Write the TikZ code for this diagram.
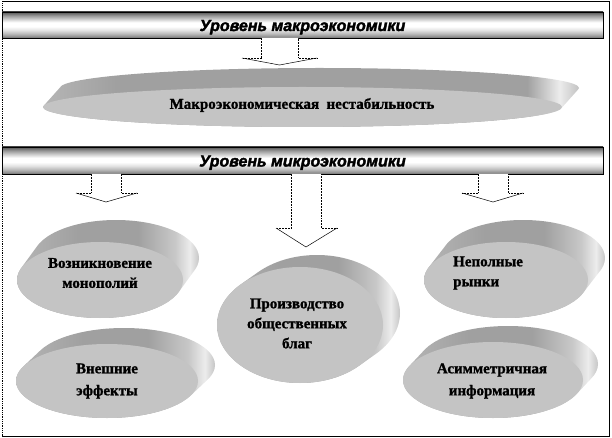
\documentclass[tikz,border=0pt]{standalone}
\usepackage{fontspec}
\setmainfont[BoldFeatures={FakeBold=1.2}]{Liberation Serif}
\newfontfamily\barfont[BoldItalicFeatures={FakeBold=2.2}]{Liberation Sans}
\usetikzlibrary{calc}
\definecolor{face}{HTML}{C4C4C4}
\definecolor{sA}{HTML}{B6B6B6}
\definecolor{sB}{HTML}{A0A0A0}
\definecolor{sC}{HTML}{C8C8C8}
\definecolor{sD}{HTML}{ECECEC}
\definecolor{sE}{HTML}{BEBEBE}
\definecolor{bA}{HTML}{6E6E6E}
\definecolor{bB}{HTML}{909090}
\definecolor{bC}{HTML}{B8B8B8}
\definecolor{bD}{HTML}{E2E2E2}
\definecolor{bW}{HTML}{FFFFFF}
\definecolor{bE}{HTML}{D2D2D2}
\definecolor{bF}{HTML}{9A9A9A}
\definecolor{bG}{HTML}{555555}
\pgfdeclarehorizontalshading{diskside}{100bp}{color(0bp)=(sA); color(25bp)=(sA); color(42bp)=(sB); color(58bp)=(sB); color(68bp)=(sC); color(72bp)=(sD); color(75bp)=(sE); color(100bp)=(sE)}
\pgfdeclarehorizontalshading{wideside}{100bp}{color(0bp)=(sA); color(25bp)=(sA); color(32bp)=(sB); color(70bp)=(sB); color(73bp)=(sD); color(75bp)=(sE); color(100bp)=(sE)}
\pgfdeclareverticalshading{barshade}{100bp}{color(0bp)=(bA); color(25bp)=(bA); color(28bp)=(bB); color(33bp)=(bC); color(40bp)=(bD); color(47bp)=(bW); color(55bp)=(bW); color(61bp)=(bE); color(68bp)=(bF); color(75bp)=(bG); color(100bp)=(bG)}
\newcommand\drawdisk[7]{%
  \begin{scope}
    \clip foreach \k in {0,...,24} {({#1+\k*(#5)/24},{#2+\k*(#6)/24}) ellipse ({#3pt} and {#4pt})};
    \shade[shading=#7] ({#1-#3-2},{#2+#6-#4-2}) rectangle ({#1+#3+#5+2},{#2+#4+2});
  \end{scope}
  \fill[face] (#1,#2) ellipse ({#3pt} and {#4pt});
}
% name, shaft left, shaft right, top, shaft bottom, wing left, wing right, tip y
\newcommand\blockarrow[8]{%
  \coordinate (#1) at ({(#2+#3)/2},#8);
  \fill[white] (#2,#4) -- (#2,#5) -- (#6,#5) -- (#1) -- (#7,#5) -- (#3,#5) -- (#3,#4) -- cycle;
  \draw[arrline] (#2,#4) -- (#2,#5) -- (#6,#5);
  \draw[arrline] (#7,#5) -- (#3,#5) -- (#3,#4);
  \draw[headline] (#6,#5) -- (#1) -- (#7,#5);
}
\tikzset{
  bar/.style={shade, shading=barshade, draw=black, line width=0.6pt, inner sep=0pt,
    minimum width=601pt, text height=12pt, text depth=0pt,
    font=\barfont\bfseries\itshape\fontsize{16}{18}\selectfont},
  dtext/.style={inner sep=0pt, align=center, font=\bfseries\fontsize{15}{20}\selectfont},
  dtextb/.style={inner sep=0pt, align=center, font=\bfseries\fontsize{15}{22}\selectfont},
  arrline/.style={black, line width=0.5pt, densely dotted},
  headline/.style={black, line width=0.5pt}
}
\begin{document}
\begin{tikzpicture}[x=1pt,y=-1pt]
\useasboundingbox (0,0) rectangle (612,438);
% frame
\draw[black, line width=0.8pt] (2,1.5) -- (609,1.5) -- (609,436) -- (2,436);
\draw[black, line width=0.8pt, densely dotted] (2,1.5) -- (2,436);
% disks
\drawdisk{302.5}{107}{259.5}{20}{17}{-19}{wideside}
\drawdisk{100}{280}{83}{38}{16}{-22}{diskside}
\drawdisk{506}{280}{82}{38}{17}{-22}{diskside}
\drawdisk{300}{325}{83}{58}{17}{-12}{diskside}
\drawdisk{107}{381}{91}{37}{17}{-16}{diskside}
\drawdisk{493}{380}{90}{38}{15}{-16}{diskside}
% bars
\node[bar, minimum height=26pt] (macrobar) at (302.5,25) {Уровень макроэкономики};
\node[bar, minimum height=27pt] (microbar) at (302.5,160.5) {Уровень микроэкономики};
% texts
\node[dtext] (dmacro) at (302,105) {Макроэкономическая\ \ нестабильность};
\node[dtext] (dmon) at (100,273) {Возникновение\\монополий};
\node[dtext, align=left, anchor=west] (dmark) at (453,273) {Неполные\\рынки};
\node[dtext] (dpub) at (297,323.5) {Производство\\общественных\\благ};
\node[dtextb] (dext) at (107,381) {Внешние\\эффекты};
\node[dtextb] (dinf) at (492,381) {Асимметричная\\информация};
% arrows
\blockarrow{a0}{261}{298}{38}{58}{242}{317}{65}
\blockarrow{a1}{91}{121}{174}{193}{76}{137}{202}
\blockarrow{a2}{291}{321}{174}{228}{276}{337}{247}
\blockarrow{a3}{478}{508}{174}{193}{462}{523}{202}
\end{tikzpicture}
\end{document}
